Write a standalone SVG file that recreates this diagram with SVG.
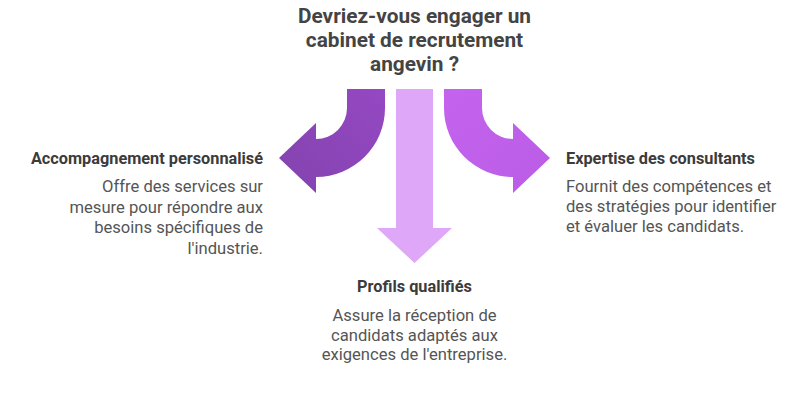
<svg xmlns="http://www.w3.org/2000/svg" width="800" height="405" viewBox="0 0 800 405">
  <defs>
    <linearGradient id="gLeft" x1="1" y1="0" x2="0" y2="1">
      <stop offset="0" stop-color="#9548C2"/>
      <stop offset="1" stop-color="#8343AE"/>
    </linearGradient>
    <linearGradient id="gRight" x1="0" y1="0" x2="1" y2="1">
      <stop offset="0" stop-color="#C363EE"/>
      <stop offset="1" stop-color="#BB5CE6"/>
    </linearGradient>
  </defs>
  <style>
    .title { font-family: Roboto, "Liberation Sans", sans-serif; font-weight: 700; font-size: 20.8px; fill: #444444; }
    .head { font-family: Roboto, "Liberation Sans", sans-serif; font-weight: 700; font-size: 16.3px; fill: #3b3b3b; }
    .body { font-family: Roboto, "Liberation Sans", sans-serif; font-weight: 400; font-size: 16.6px; fill: #555555; }
  </style>
  <rect width="800" height="405" fill="#ffffff"/>
  <g id="title">
    <text class="title" x="414.5" y="23" text-anchor="middle">Devriez-vous engager un</text>
    <text class="title" x="414.5" y="47" text-anchor="middle">cabinet de recrutement</text>
    <text class="title" x="414.5" y="71" text-anchor="middle">angevin ?</text>
  </g>
  <g id="connectors">
    <path id="arrow-left" d="M347,89 H385 V108 A69,69 0 0 1 316,177 V193 L279,158 L316,123 V139 A31,31 0 0 0 347,108 Z" fill="url(#gLeft)"/>
    <path id="arrow-down" d="M396,89 H433 V228 H452 L414.5,263 L377,228 H396 Z" fill="#DEA7F8"/>
    <path id="arrow-right" d="M482,89 H444 V108 A69,69 0 0 0 513,177 V193 L550,158 L513,123 V139 A31,31 0 0 1 482,108 Z" fill="url(#gRight)"/>
  </g>
  <g id="node-accompagnement">
    <text class="head" x="263" y="163.5" text-anchor="end">Accompagnement personnalisé</text>
    <text class="body" x="263" y="192" text-anchor="end">Offre des services sur</text>
    <text class="body" x="263" y="212.5" text-anchor="end">mesure pour répondre aux</text>
    <text class="body" x="263" y="233" text-anchor="end">besoins spécifiques de</text>
    <text class="body" x="263" y="253.5" text-anchor="end">l'industrie.</text>
  </g>
  <g id="node-expertise">
    <text class="head" x="566" y="163.5">Expertise des consultants</text>
    <text class="body" x="566" y="191.5">Fournit des compétences et</text>
    <text class="body" x="566" y="211.5">des stratégies pour identifier</text>
    <text class="body" x="566" y="231.5">et évaluer les candidats.</text>
  </g>
  <g id="node-profils">
    <text class="head" x="414.5" y="292" text-anchor="middle">Profils qualifiés</text>
    <text class="body" x="414.5" y="321" text-anchor="middle">Assure la réception de</text>
    <text class="body" x="414.5" y="340.5" text-anchor="middle">candidats adaptés aux</text>
    <text class="body" x="414.5" y="360" text-anchor="middle">exigences de l'entreprise.</text>
  </g>
</svg>
